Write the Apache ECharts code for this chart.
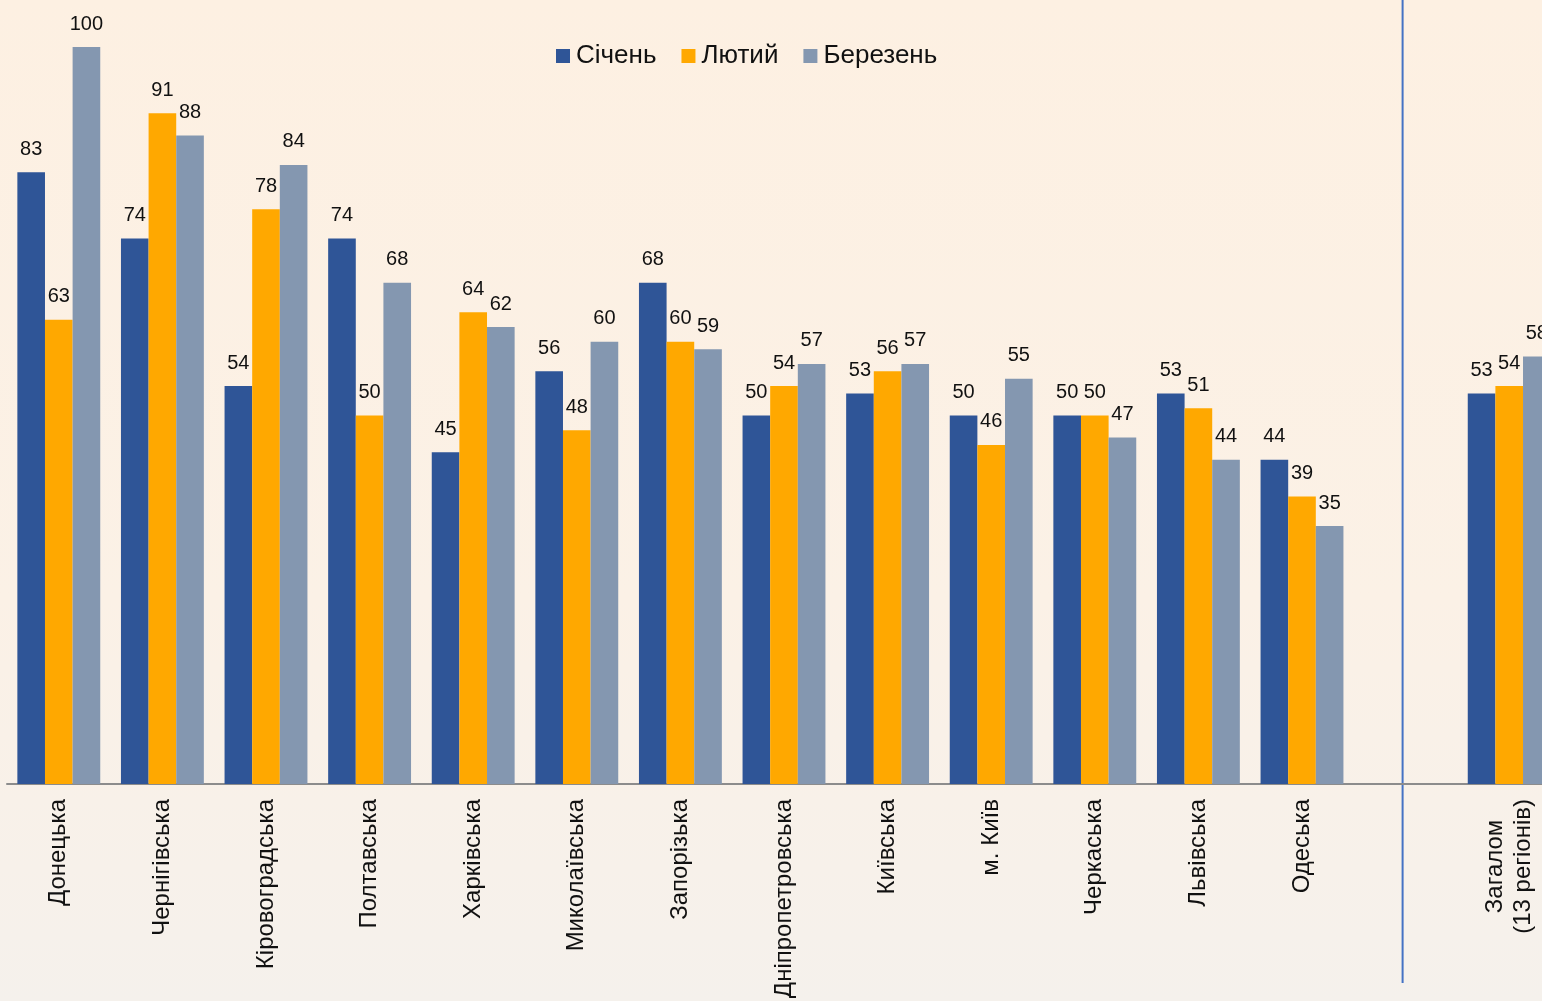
<!DOCTYPE html>
<html>
<head>
<meta charset="utf-8">
<script src="https://cdn.jsdelivr.net/npm/echarts@6/dist/echarts.min.js"></script>
<style>
html,body{margin:0;padding:0;width:1542px;height:1001px;overflow:hidden;}
#c{width:1542px;height:1001px;}
</style>
</head>
<body>
<div id="c"></div>
<script>
const categories = ['Донецька','Чернігівська','Кіровоградська','Полтавська','Харківська','Миколаївська','Запорізька','Дніпропетровська','Київська','м. Київ','Черкаська','Львівська','Одеська','','Загалом\n(13 регіонів)'];
const seriesNames = ['Січень','Лютий','Березень'];
const january  = [83,74,54,74,45,56,68,50,53,50,50,53,44,'-',53];
const february = [63,91,78,50,64,48,60,54,56,46,50,51,39,'-',54];
const march    = [100,88,84,68,62,60,59,57,57,55,47,44,35,'-',58];
const colors = ['#2F5597','#FFA800','#8497B0'];
const separatorCategory = '';

const FONT = '"Liberation Sans", Arial, sans-serif';
const chart = echarts.init(document.getElementById('c'));

function mkSeries(name, data, color){
  return {
    name: name, type: 'bar', data: data,
    barGap: '0%', barCategoryGap: '20%',
    itemStyle: {color: color},
    label: {show: true, position: 'top', distance: 13, color: '#111', fontSize: 20, fontFamily: FONT},
    emphasis: {disabled: true}
  };
}

chart.setOption({
  animation: false,
  backgroundColor: {
    type: 'linear', x: 0, y: 0, x2: 0, y2: 1,
    colorStops: [{offset: 0, color: '#FDF0E2'}, {offset: 0.6, color: '#FBF1E6'}, {offset: 1, color: '#F5F1EC'}]
  },
  legend: {
    left: 551, top: 38, itemWidth: 14, itemHeight: 14, itemGap: 25,
    icon: 'rect',
    textStyle: {fontSize: 26, color: '#111', fontFamily: FONT, padding: [0,0,0,1]},
    data: seriesNames
  },
  grid: {left: 7, width: 1554, top: 47, bottom: 217, containLabel: false, outerBoundsMode: 'none'},
  xAxis: {
    type: 'category', data: categories,
    axisLine: {lineStyle: {color: '#8C8C8C', width: 2}},
    axisTick: {show: false},
    axisLabel: {
      rotate: 90, interval: 0, margin: 15, color: '#111', fontSize: 24, fontFamily: FONT,
      formatter: function(v){
        return v.split('\n').map(s => '{a|' + s + '}').join('\n');
      },
      rich: {a: {align: 'center', fontSize: 24, fontFamily: FONT, color: '#111', lineHeight: 28}}
    }
  },
  yAxis: {type: 'value', min: 0, max: 100, show: false, splitLine: {show: false}},
  series: [
    mkSeries(seriesNames[0], january, colors[0]),
    mkSeries(seriesNames[1], february, colors[1]),
    mkSeries(seriesNames[2], march, colors[2])
  ]
});

const sx = chart.convertToPixel({xAxisIndex: 0}, separatorCategory);
chart.setOption({
  graphic: [{
    type: 'line', silent: true,
    shape: {x1: sx - 3, y1: 0, x2: sx - 3, y2: 983},
    style: {stroke: '#4472C4', lineWidth: 2}
  }]
});
</script>
</body>
</html>
